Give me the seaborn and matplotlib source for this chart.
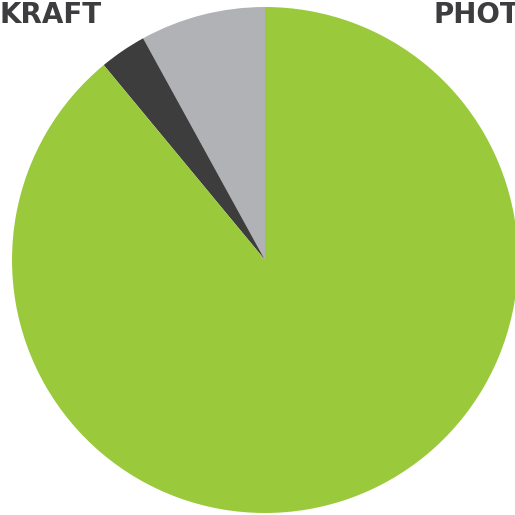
import matplotlib
matplotlib.use("Agg")
import matplotlib.pyplot as plt
import seaborn as sns

categories = ["Other", "Kraft", "Photo"]
values = [8, 3, 89]
colors = ["#b1b2b6", "#3d3d3d", "#9aca3c"]
labels = ["KRAFT", "PHOTO"]

sns.set_theme(style="white")
plt.rcParams['font.family'] = ['DejaVu Sans']

W = H = 515
fig = plt.figure(figsize=(W / 100, H / 100), dpi=100)
cx, cy, r = 265, 260, 253
ax = fig.add_axes([(cx - r) / W, (H - cy - r) / H, 2 * r / W, 2 * r / H])
ax.pie(values, colors=colors, startangle=90, counterclock=True,
       wedgeprops=dict(linewidth=0), radius=1)
ax.set_xlim(-1, 1)
ax.set_ylim(-1, 1)
ax.set_aspect("equal")
ax.axis("off")

fig.text(-1 / W, 1 - 1 / H, labels[0], ha="left", va="top", fontsize=20,
         fontweight="bold", color="#3d3d3f")
fig.text(434 / W, 1 - 1 / H, labels[1], ha="left", va="top", fontsize=20,
         fontweight="bold", color="#3d3d3f")

fig.savefig("out.png", dpi=100)
